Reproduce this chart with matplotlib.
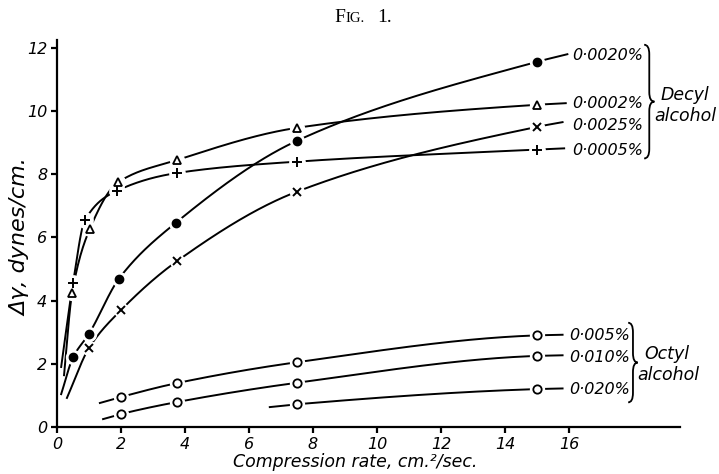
import numpy as np
import matplotlib
matplotlib.use("Agg")
import matplotlib.pyplot as plt
from matplotlib.path import Path
from matplotlib.patches import PathPatch

# measured points (compression rate, delta gamma)
x_0020 = [0.5, 1.0, 1.94, 3.72, 7.5, 15.0]
y_0020 = [2.2, 2.95, 4.7, 6.47, 9.06, 11.56]
x_0002 = [0.47, 1.03, 1.9, 3.75, 7.5, 15.0]
y_0002 = [4.23, 6.28, 7.74, 8.45, 9.47, 10.2]
x_0025 = [1.0, 2.0, 3.75, 7.5, 15.0]
y_0025 = [2.5, 3.7, 5.25, 7.45, 9.5]
x_0005 = [0.5, 0.87, 1.88, 3.75, 7.5, 15.0]
y_0005 = [4.55, 6.54, 7.48, 8.04, 8.4, 8.78]
x_oct005 = [2.0, 3.75, 7.5, 15.0]
y_oct005 = [0.95, 1.39, 2.05, 2.9]
x_oct010 = [2.0, 3.75, 7.5, 15.0]
y_oct010 = [0.41, 0.79, 1.4, 2.25]
x_oct020 = [7.5, 15.0]
y_oct020 = [0.72, 1.2]

# where each drawn curve begins and where its leader ends
start_pts = {"0020": (0.13, 1.04), "0002": (0.22, 1.64), "0025": (0.31, 0.92),
             "0005": (0.13, 1.9), "oct005": (1.34, 0.76), "oct010": (1.44, 0.25),
             "oct020": (6.65, 0.63)}
end_pts = {"0020": (15.95, 11.8), "0002": (15.9, 10.25), "0025": (15.8, 9.65),
           "0005": (15.85, 8.82), "oct005": (15.8, 2.92), "oct010": (15.8, 2.27),
           "oct020": (15.8, 1.22)}

labels = {"0020": "0·0020%", "0002": "0·0002%", "0025": "0·0025%", "0005": "0·0005%",
          "oct005": "0·005%", "oct010": "0·010%", "oct020": "0·020%"}
label_y = {"0020": 11.75, "0002": 10.23, "0025": 9.54, "0005": 8.75,
           "oct005": 2.9, "oct010": 2.2, "oct020": 1.2}

series = [
    ("0020", x_0020, y_0020, dict(marker="o", ms=6, mfc="black")),
    ("0002", x_0002, y_0002, dict(marker="^", ms=6, mfc="white", mew=1.3)),
    ("0025", x_0025, y_0025, dict(marker="x", ms=6, mew=1.4)),
    ("0005", x_0005, y_0005, dict(marker="+", ms=7, mew=1.4)),
    ("oct005", x_oct005, y_oct005, dict(marker="o", ms=6, mfc="white", mew=1.3)),
    ("oct010", x_oct010, y_oct010, dict(marker="o", ms=6, mfc="white", mew=1.3)),
    ("oct020", x_oct020, y_oct020, dict(marker="o", ms=6, mfc="white", mew=1.3)),
]


def pchip(x, y, xs):
    x = np.asarray(x, float)
    y = np.asarray(y, float)
    h = np.diff(x)
    d = np.diff(y) / h
    n = len(x)
    m = np.zeros(n)
    for k in range(1, n - 1):
        if d[k - 1] * d[k] > 0:
            w1 = 2 * h[k] + h[k - 1]
            w2 = h[k] + 2 * h[k - 1]
            m[k] = (w1 + w2) / (w1 / d[k - 1] + w2 / d[k])
    m[0] = d[0]
    m[-1] = d[-1]
    idx = np.clip(np.searchsorted(x, xs) - 1, 0, n - 2)
    t = (xs - x[idx]) / h[idx]
    h00 = 2 * t**3 - 3 * t**2 + 1
    h10 = t**3 - 2 * t**2 + t
    h01 = -2 * t**3 + 3 * t**2
    h11 = t**3 - t**2
    return (h00 * y[idx] + h10 * h[idx] * m[idx] + h01 * y[idx + 1]
            + h11 * h[idx] * m[idx + 1])


def brace(ax, x0, ytop, ybot, w, lw=1.3):
    ymid = (ytop + ybot) / 2
    r = 0.3
    xm = x0 + w / 2
    verts = [(x0, ytop), (xm, ytop), (xm, ytop - r),
             (xm, ymid + r),
             (xm, ymid), (x0 + w, ymid), (x0 + w, ymid),
             (xm, ymid), (xm, ymid - r),
             (xm, ybot + r),
             (xm, ybot), (x0, ybot)]
    codes = [Path.MOVETO, Path.CURVE3, Path.CURVE3, Path.LINETO,
             Path.CURVE3, Path.CURVE3, Path.MOVETO, Path.CURVE3, Path.CURVE3,
             Path.LINETO, Path.CURVE3, Path.CURVE3]
    ax.add_patch(PathPatch(Path(verts, codes), fill=False, lw=lw,
                           color="black", clip_on=False))


plt.rcParams["font.family"] = ["DejaVu Sans"]
fig = plt.figure(figsize=(7.19, 4.74), dpi=100)
ax = fig.add_axes([57 / 719, 47 / 474, 623 / 719, 387 / 474])

for key, xs_, ys_, style in series:
    lx = [start_pts[key][0]] + list(xs_) + [end_pts[key][0]]
    ly = [start_pts[key][1]] + list(ys_) + [end_pts[key][1]]
    xx = np.linspace(lx[0], lx[-1], 400)
    ax.plot(xx, pchip(lx, ly, xx), color="black", lw=1.4, zorder=2)
    # white halo leaves a small gap in the curve round each point
    ax.plot(xs_, ys_, ls="none", marker="o", ms=style["ms"] + 4, mfc="white",
            mec="white", zorder=3)
    ax.plot(xs_, ys_, ls="none", color="black", mec="black", zorder=4, **style)
    tx = 16.1 if not key.startswith("oct") else 16.0
    ax.text(tx, label_y[key], labels[key], fontsize=11.5, style="italic",
            va="center", ha="left")

brace(ax, 18.35, 12.1, 8.5, 0.32)
ax.text(18.85, 10.5, "Decyl", fontsize=12.5, style="italic", va="center")
ax.text(18.68, 9.85, "alcohol", fontsize=12.5, style="italic", va="center")
brace(ax, 17.85, 3.3, 0.78, 0.3)
ax.text(18.35, 2.3, "Octyl", fontsize=12.5, style="italic", va="center")
ax.text(18.15, 1.66, "alcohol", fontsize=12.5, style="italic", va="center")

ax.set_xlim(0, 19.47)
ax.set_ylim(0, 12.25)
ax.set_xticks(range(0, 17, 2))
ax.set_yticks(range(0, 13, 2))
for s in ["top", "right"]:
    ax.spines[s].set_visible(False)
for s in ["left", "bottom"]:
    ax.spines[s].set_linewidth(1.6)
ax.tick_params(direction="out", length=4, width=1.6, labelsize=11.5, pad=3)
for lab in ax.get_xticklabels() + ax.get_yticklabels():
    lab.set_style("italic")

ax.set_xlabel("Compression rate, cm.²/sec.", fontsize=12.5, style="italic")
ax.xaxis.set_label_coords(0.478, -0.066)
ax.set_ylabel("Δγ, dynes/cm.", fontsize=16, style="italic")
ax.yaxis.set_label_coords(-0.043, 0.49)

fig.text(334 / 719, 1 - 17 / 474, "F", fontsize=14, family="Liberation Serif",
         ha="left", va="center")
fig.text(345 / 719, 1 - 18 / 474, "IG.", fontsize=10.5, family="Liberation Serif",
         ha="left", va="center")
fig.text(377 / 719, 1 - 17 / 474, "1.", fontsize=14, family="Liberation Serif",
         ha="left", va="center")

fig.savefig("out.png", dpi=100)
